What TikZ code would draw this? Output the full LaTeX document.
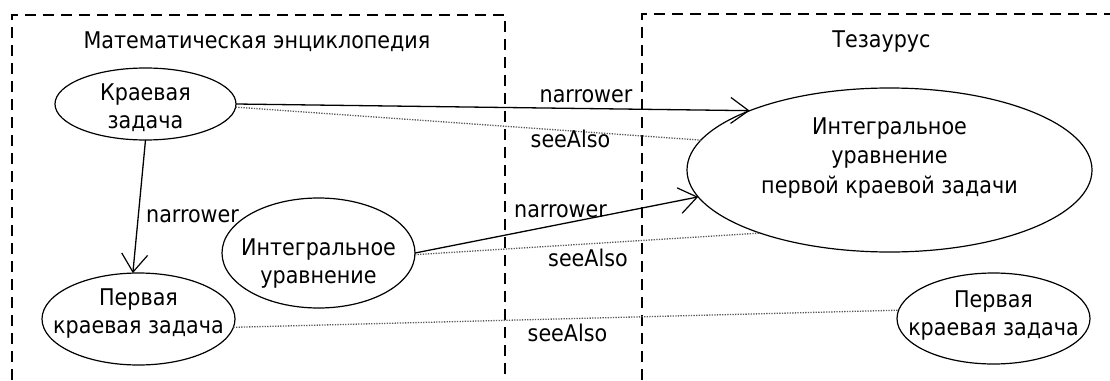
\documentclass[tikz,border=0pt]{standalone}
\usepackage{fontspec}
\setmainfont{DejaVu Sans Condensed}
\usetikzlibrary{shapes.geometric,arrows.meta}
\newcommand{\elltext}[2]{\raisebox{#1}[0pt][0pt]{\makebox[0pt]{\begin{tabular}[t]{@{}c@{}}#2\end{tabular}}}}
\tikzset{
  ell/.style={ellipse, draw, line width=1.2pt, inner sep=0pt, outer sep=0pt},
  dbox/.style={line width=1.2pt, dash pattern=on 11pt off 7pt},
  narrowedge/.style={line width=1.3pt, -{Straight Barb[length=18pt,width=26pt,line width=1.2pt]}},
  seeedge/.style={line width=1.3pt, black!65, dash pattern=on 1.3pt off 1.3pt},
  lbl/.style={anchor=base, inner sep=0pt},
}
\begin{document}
\begin{tikzpicture}[x=1pt,y=-1pt,font=\fontsize{23}{28}\selectfont]
\useasboundingbox (0,0) rectangle (1110,380);
% dashed frames
\draw[dbox] (12,380) -- (12,15) -- (505,15) -- (505,380);
\draw[dbox] (642,380) -- (642,14) -- (1110,14);
\node[lbl] (t1) at (257,48) {Математическая энциклопедия};
\node[lbl] (t2) at (881.5,47) {Тезаурус};
% ellipses
\node[ell, minimum width=181pt, minimum height=72pt] (kz) at (145.5,104) {\elltext{4pt}{Краевая\\задача}};
\node[ell, minimum width=193pt, minimum height=92pt] (pl) at (138.5,319) {\elltext{14pt}{Первая\\краевая задача}};
\node[ell, minimum width=193pt, minimum height=110pt] (il) at (318.5,253) {\elltext{-2pt}{Интегральное\\уравнение}};
\node[ell, minimum width=405pt, minimum height=164pt] (ir) at (889.5,170) {\renewcommand{\arraystretch}{1.07}\elltext{36pt}{Интегральное\\уравнение\\первой краевой задачи}};
\node[ell, minimum width=193pt, minimum height=91pt] (pr) at (993.5,318.5) {\elltext{11.5pt}{Первая\\краевая задача}};
% connectors
\draw[narrowedge] (kz.east) -- (ir.157.7);
\draw[seeedge] (kz.-2) -- (ir.171.6);
\draw[narrowedge] (kz.south) -- (pl.97);
\draw[narrowedge] (il.east) -- (ir.188.8);
\draw[seeedge] (il.-1) -- (ir.206.3);
\draw[seeedge] (pl.-5.3) -- (pr.175);
% labels
\node[lbl] (n1) at (586,102) {narrower};
\node[lbl] (s1) at (570.5,147) {seeAlso};
\node[lbl] (n2) at (192.5,222) {narrower};
\node[lbl] (n3) at (560.5,217) {narrower};
\node[lbl] (s2) at (588,266) {seeAlso};
\node[lbl] (s3) at (567.5,341) {seeAlso};
\end{tikzpicture}
\end{document}
